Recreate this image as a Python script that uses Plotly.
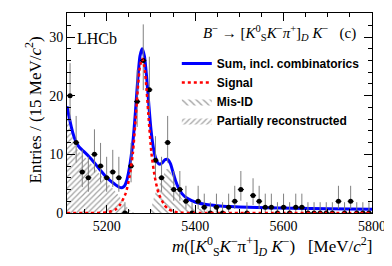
import plotly.graph_objects as go

# ---------------- data ----------------
bin_centers = [5116.9, 5130.7, 5144.5, 5158.3, 5172.1, 5185.9, 5199.7, 5213.5, 5227.3, 5241.1,
               5254.9, 5268.7, 5282.5, 5296.3, 5310.1, 5323.9, 5337.7, 5351.5, 5365.3, 5379.1,
               5392.9, 5406.7, 5420.5, 5434.3, 5448.1, 5461.9, 5475.7, 5489.5, 5503.3, 5517.1,
               5530.9, 5544.7, 5558.5, 5572.3, 5586.1, 5599.9, 5613.7, 5627.5, 5641.3, 5655.1,
               5668.9, 5682.7, 5696.5, 5710.3, 5724.1, 5737.9, 5751.7, 5765.5, 5779.3, 5793.1]
counts = [20, 12, 7, 6, 10, 8, 6, 7, 6, 0,
          8, 19, 26, 21, 9, 6, 12, 4, 4, 2,
          0, 2, 1, 0, 1, 0, 1, 2, 4, 0,
          3, 2, 1, 1, 0, 1, 0, 1, 1, 0,
          0, 0, 0, 0, 2, 0, 2, 0, 0, 0]
err_hi = [5.55, 4.55, 3.77, 3.58, 4.27, 3.95, 3.58, 3.77, 3.58, 1.84,
          3.95, 5.43, 6.16, 5.65, 4.10, 3.58, 4.55, 3.16, 3.16, 2.64,
          1.84, 2.64, 2.30, 1.84, 2.30, 1.84, 2.30, 2.64, 3.16, 1.84,
          2.92, 2.64, 2.30, 2.30, 1.84, 2.30, 1.84, 2.30, 2.30, 1.84,
          1.84, 1.84, 1.84, 1.84, 2.64, 1.84, 2.64, 1.84, 1.84, 1.84]
err_lo = [4.43, 3.41, 2.58, 2.38, 3.11, 2.77, 2.38, 2.58, 2.38, 0.0,
          2.77, 4.33, 5.06, 4.54, 2.94, 2.38, 3.41, 1.91, 1.91, 1.29,
          0.0, 1.29, 0.83, 0.0, 0.83, 0.0, 0.83, 1.29, 1.91, 0.0,
          1.63, 1.29, 0.83, 0.83, 0.0, 0.83, 0.0, 0.83, 0.83, 0.0,
          0.0, 0.0, 0.0, 0.0, 1.29, 0.0, 1.29, 0.0, 0.0, 0.0]
BIN_WIDTH = 13.8

sum_mass = [5110, 5115, 5120, 5125, 5130, 5137, 5145, 5152, 5160, 5167, 5175, 5182, 5190, 5198,
            5205, 5213, 5220, 5228, 5234, 5240, 5245, 5250, 5255, 5260, 5265, 5270, 5275, 5280,
            5285, 5290, 5295, 5300, 5305, 5310, 5315, 5320, 5326, 5332, 5338, 5344, 5350, 5356,
            5362, 5370, 5380, 5392, 5405, 5425, 5450, 5480, 5520, 5560, 5620, 5700, 5800]
sum_vals = [18.2, 16.3, 14.6, 13.2, 12.2, 11.3, 10.7, 10.2, 9.6, 9.0, 8.3, 7.6, 6.9, 6.2,
            5.7, 5.2, 4.8, 4.4, 4.3, 4.6, 5.5, 7.2, 9.6, 12.8, 17.4, 22.7, 26.7, 28.0,
            26.8, 23.3, 18.6, 14.2, 11.3, 9.5, 8.6, 8.3, 8.6, 9.1, 9.1, 8.4, 6.9, 5.4,
            4.3, 3.3, 2.6, 2.1, 1.75, 1.45, 1.25, 1.1, 0.97, 0.88, 0.8, 0.72, 0.65]

sig_mass = [5110, 5160, 5200, 5220, 5230, 5243, 5251.5, 5259, 5265, 5270, 5275, 5280, 5285,
            5290, 5295, 5301, 5308.5, 5317, 5330, 5340, 5360, 5400, 5500, 5600, 5700, 5800]
sig_vals = [0, 0, 0.1, 0.6, 1.4, 3.4, 6.2, 10.2, 15.8, 21.0, 25.0, 26.3, 25.0,
            21.0, 15.8, 10.2, 6.2, 3.4, 1.4, 0.6, 0.1, 0, 0, 0, 0, 0]

misid_mass = [5298, 5303, 5308, 5315, 5322, 5328, 5334, 5340, 5345, 5350, 5357, 5365, 5375,
              5390, 5405, 5425, 5450, 5470]
misid_vals = [0, 1.5, 3.0, 4.2, 5.3, 6.4, 7.4, 7.6, 6.9, 5.8, 4.2, 3.0, 2.0,
              1.3, 0.8, 0.45, 0.15, 0]

partreco_mass = [5110, 5115, 5120, 5125, 5130, 5137, 5145, 5152, 5160, 5167, 5175, 5182,
                 5190, 5198, 5205, 5213, 5220, 5228, 5234, 5240, 5247, 5254, 5262]
partreco_vals = [17.4, 15.5, 13.8, 12.4, 11.4, 10.5, 9.9, 9.4, 8.8, 8.2, 7.5, 6.8,
                 6.1, 5.4, 4.8, 4.2, 3.6, 2.9, 2.2, 1.5, 0.9, 0.4, 0.0]

x_ticks = [5200, 5400, 5600, 5800]
y_ticks = [0, 10, 20, 30]

# ---------------- styling ----------------
SERIF = "Liberation Serif, Times New Roman, serif"
SANS = "Liberation Sans, Arial, sans-serif"

fig = go.Figure()

fig.add_trace(go.Scatter(
    x=partreco_mass, y=partreco_vals, mode="lines", fill="tozeroy",
    line=dict(width=0, color="rgba(0,0,0,0)", shape="spline", smoothing=0.6),
    fillcolor="rgba(0,0,0,0)",
    fillpattern=dict(shape="/", size=4, solidity=0.3, fgcolor="#444444",
                     bgcolor="rgba(255,255,255,0)"),
    name="<b>Partially reconstructed</b>", legendrank=4))

fig.add_trace(go.Scatter(
    x=misid_mass, y=misid_vals, mode="lines", fill="tozeroy",
    line=dict(width=0, color="rgba(0,0,0,0)", shape="spline", smoothing=0.6),
    fillcolor="rgba(0,0,0,0)",
    fillpattern=dict(shape="\\", size=5, solidity=0.28, fgcolor="#444444",
                     bgcolor="rgba(255,255,255,0)"),
    name="<b>Mis-ID</b>", legendrank=3))

fig.add_trace(go.Scatter(
    x=sum_mass, y=sum_vals, mode="lines",
    line=dict(color="#0000ff", width=3, shape="spline", smoothing=0.6),
    name="<b>Sum, incl. combinatorics</b>", legendrank=1))

fig.add_trace(go.Scatter(
    x=bin_centers, y=counts, mode="markers",
    marker=dict(color="black", size=5),
    error_y=dict(type="data", symmetric=False, array=err_hi, arrayminus=err_lo,
                 color="#808080", thickness=1, width=0),
    error_x=dict(type="constant", value=BIN_WIDTH / 2, color="black", thickness=1, width=0),
    showlegend=False))

fig.add_trace(go.Scatter(
    x=sig_mass, y=sig_vals, mode="lines",
    line=dict(color="#ff0000", width=2.5, dash="dot", shape="spline", smoothing=0.6),
    name="<b>Signal</b>", legendrank=2))

axis_common = dict(
    showline=True, linecolor="black", linewidth=1, mirror="ticks",
    ticks="inside", ticklen=8, tickwidth=1, tickcolor="black",
    showgrid=False, zeroline=False,
    tickfont=dict(family=SERIF, size=14, color="black"),
)

fig.update_xaxes(range=[5110, 5800], tickvals=x_ticks, ticktext=[str(v) for v in x_ticks],
                 minor=dict(ticks="inside", ticklen=4, dtick=50, tick0=5200, tickcolor="black"),
                 **axis_common)
fig.update_yaxes(range=[0, 34.1], tickvals=y_ticks, ticktext=[str(v) for v in y_ticks],
                 minor=dict(ticks="inside", ticklen=4, dtick=2, tick0=0, tickcolor="black"),
                 **axis_common)

# The page body adds an 8 px margin, so the figure is 8 px smaller and margins shifted.
fig.update_layout(
    width=384, height=258,
    margin=dict(l=59, r=20, t=5, b=53),
    paper_bgcolor="white", plot_bgcolor="white",
    showlegend=True,
    legend=dict(x=0.36, y=0.82, xanchor="left", yanchor="top",
                bgcolor="rgba(0,0,0,0)", borderwidth=0,
                font=dict(family=SANS, size=12, color="black"),
                itemwidth=30, tracegroupgap=0),
    annotations=[
        dict(text="LHCb", x=0.026, y=0.875, xref="paper", yref="paper",
             xanchor="left", yanchor="middle", showarrow=False,
             font=dict(family=SERIF, size=16, color="black")),
        dict(text="<i>B</i><sup>−</sup> → [<i>K</i><sup>0</sup><sub>S</sub><i>K</i><sup>−</sup><i>π</i><sup>+</sup>]<sub><i>D</i></sub> <i>K</i><sup>−</sup>   (c)",
             x=0.955, y=0.90, xref="paper", yref="paper",
             xanchor="right", yanchor="middle", showarrow=False,
             font=dict(family=SERIF, size=15, color="black")),
        dict(text="<i>m</i>([<i>K</i><sup>0</sup><sub>S</sub><i>K</i><sup>−</sup>π<sup>+</sup>]<sub><i>D</i></sub> <i>K</i><sup>−</sup>)   [MeV/<i>c</i><sup>2</sup>]",
             x=1.005, y=-0.165, xref="paper", yref="paper",
             xanchor="right", yanchor="middle", showarrow=False,
             font=dict(family=SERIF, size=17, color="black")),
        dict(text="Entries / (15 MeV/<i>c</i><sup>2</sup>)", textangle=-90,
             x=-0.11, y=0.515, xref="paper", yref="paper",
             xanchor="center", yanchor="middle", showarrow=False,
             font=dict(family=SERIF, size=17, color="black")),
    ],
)

fig.write_html("out.html")
